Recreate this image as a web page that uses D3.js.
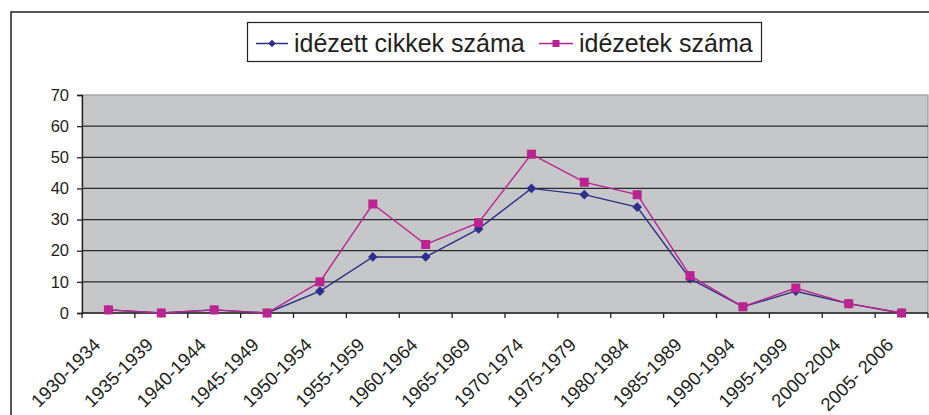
<!DOCTYPE html>
<html>
<head>
<meta charset="utf-8">
<script src="https://cdn.jsdelivr.net/npm/d3@7"></script>
<style>
  body { margin: 0; background: #fff; }
  svg text { font-family: 'Liberation Sans', Arial, sans-serif; fill: #231f20; }
</style>
</head>
<body>
<div id="chart"></div>
<script>
// periods on the x axis
var periods = ['1930-1934', '1935-1939', '1940-1944', '1945-1949', '1950-1954', '1955-1959',
  '1960-1964', '1965-1969', '1970-1974', '1975-1979', '1980-1984', '1985-1989',
  '1990-1994', '1995-1999', '2000-2004', '2005- 2006']
// idézett cikkek száma
var citedArticles = [1, 0, 1, 0, 7, 18, 18, 27, 40, 38, 34, 11, 2, 7, 3, 0]
// idézetek száma
var citations = [1, 0, 1, 0, 10, 35, 22, 29, 51, 42, 38, 12, 2, 8, 3, 0]
var yTicks = [0, 10, 20, 30, 40, 50, 60, 70]

var seriesNames = ['idézett cikkek száma', 'idézetek száma']
var blue = '#2b2e8c'
var pink = '#bb2390'

var width = 929, height = 415
var plot = { left: 82, right: 928, top: 95, bottom: 313 }

var svg = d3.select('#chart').append('svg')
  .attr('width', width)
  .attr('height', height)

// outer chart frame (right and bottom edges fall outside the picture)
svg.append('path')
  .attr('d', 'M11 ' + (height + 5) + 'V12H' + (width + 5))
  .attr('fill', 'none')
  .attr('stroke', '#231f20')
  .attr('stroke-width', 1.5)

var x = d3.scaleBand().domain(periods).range([plot.left, plot.right]).padding(0)
var y = d3.scaleLinear().domain([0, 70]).range([plot.bottom, plot.top])

//plot background
svg.append('rect')
  .attr('x', plot.left).attr('y', plot.top)
  .attr('width', plot.right - plot.left).attr('height', plot.bottom - plot.top)
  .attr('fill', '#c6c7c9')
  .attr('stroke', '#9a9a9c')
  .attr('stroke-width', 1.2)

// gridlines
svg.append('g')
  .selectAll('line')
  .data(yTicks.filter(function(d) { return d > 0 && d < 70 }))
  .enter()
  .append('line')
  .attr('x1', plot.left).attr('x2', plot.right)
  .attr('y1', function(d) { return y(d) }).attr('y2', function(d) { return y(d) })
  .attr('stroke', '#2a2a2a')
  .attr('stroke-width', 1.3)

// y axis
var yAxis = svg.append('g')
  .attr('transform', 'translate(' + plot.left + ',0)')
  .call(d3.axisLeft(y).tickValues(yTicks).tickSize(5).tickPadding(8))
yAxis.select('.domain').attr('stroke', '#231f20').attr('stroke-width', 1.3)
yAxis.selectAll('.tick line').attr('stroke', '#231f20').attr('stroke-width', 1.3)
yAxis.selectAll('.tick text').attr('font-size', 16.5).style('font-family', "'Liberation Sans', Arial, sans-serif")

// x axis: ticks on category boundaries
var xAxis = svg.append('g')
  .attr('transform', 'translate(0,' + plot.bottom + ')')
xAxis.append('line')
  .attr('x1', plot.left).attr('x2', plot.right)
  .attr('stroke', '#231f20').attr('stroke-width', 1.3)
var edges = periods.map(function(p) { return x(p) }).concat([plot.right])
xAxis.selectAll('line.tick')
  .data(edges)
  .enter()
  .append('line')
  .classed('tick', true)
  .attr('x1', function(d) { return d }).attr('x2', function(d) { return d })
  .attr('y1', 0).attr('y2', 5)
  .attr('stroke', '#231f20').attr('stroke-width', 1.3)
xAxis.selectAll('text')
  .data(periods)
  .enter()
  .append('text')
  .attr('transform', function(d) {
    return 'translate(' + (x(d) + x.bandwidth() / 2 - 7) + ',33) rotate(-45)'
  })
  .attr('text-anchor', 'end')
  .attr('font-size', 18.5)
  .text(function(d) { return d })

// lines
var cx = function(d, i) { return x(periods[i]) + x.bandwidth() / 2 }
var line = d3.line()
  .x(cx)
  .y(function(d) { return y(d) })

svg.append('path')
  .datum(citedArticles)
  .attr('d', line)
  .attr('fill', 'none')
  .attr('stroke', blue)
  .attr('stroke-width', 1.4)

svg.append('path')
  .datum(citations)
  .attr('d', line)
  .attr('fill', 'none')
  .attr('stroke', pink)
  .attr('stroke-width', 1.4)

var diamond = d3.symbol().type(d3.symbolDiamond2).size(60)

svg.append('g')
  .selectAll('path')
  .data(citedArticles)
  .enter()
  .append('path')
  .attr('d', diamond)
  .attr('transform', function(d, i) { return 'translate(' + cx(d, i) + ',' + y(d) + ')' })
  .attr('fill', blue)

svg.append('g')
  .selectAll('rect')
  .data(citations)
  .enter()
  .append('rect')
  .attr('x', function(d, i) { return cx(d, i) - 4.5 })
  .attr('y', function(d) { return y(d) - 4.5 })
  .attr('width', 9).attr('height', 9)
  .attr('fill', pink)

// legend
var legend = svg.append('g')
legend.append('rect')
  .attr('x', 247.5).attr('y', 22.5)
  .attr('width', 514).attr('height', 39)
  .attr('fill', '#fff')
  .attr('stroke', '#231f20')
  .attr('stroke-width', 1.2)

var legendItems = [
  { name: seriesNames[0], color: blue, x0: 256, x1: 288, tx: 294, marker: 'diamond' },
  { name: seriesNames[1], color: pink, x0: 539, x1: 573, tx: 579, marker: 'square' }
]
legendItems.forEach(function(it) {
  legend.append('line')
    .attr('x1', it.x0).attr('x2', it.x1)
    .attr('y1', 43.5).attr('y2', 43.5)
    .attr('stroke', it.color).attr('stroke-width', 1.5)
  var mx = (it.x0 + it.x1) / 2
  if (it.marker === 'diamond') {
    legend.append('path')
      .attr('d', d3.symbol().type(d3.symbolDiamond2).size(36))
      .attr('transform', 'translate(' + mx + ',43.5)')
      .attr('fill', it.color)
  } else {
    legend.append('rect')
      .attr('x', mx - 3.5).attr('y', 40).attr('width', 7).attr('height', 7)
      .attr('fill', it.color)
  }
  legend.append('text')
    .attr('x', it.tx).attr('y', 52)
    .attr('font-size', 25)
    .text(it.name)
})
</script>
</body>
</html>
